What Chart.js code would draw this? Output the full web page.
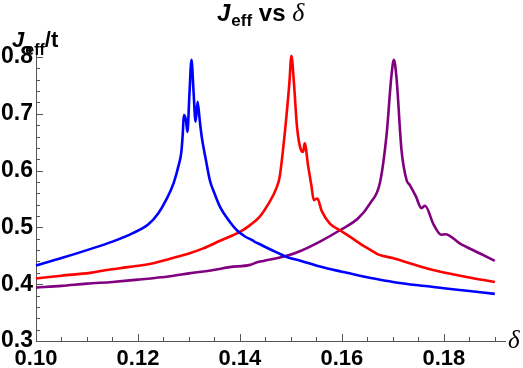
<!DOCTYPE html>
<html>
<head>
<meta charset="utf-8">
<script src="https://cdn.jsdelivr.net/npm/chart.js@4"></script>
<style>
  html, body { margin: 0; padding: 0; background: #fff; }
  #wrap { width: 523px; height: 368px; }
</style>
</head>
<body>
<div id="wrap"><canvas id="jeff-chart"></canvas></div>
<script>
'use strict';

// delta values and J_eff/t, one pair of lists per curve
var BLUE_X = [0.100, 0.105, 0.110, 0.115, 0.119, 0.122, 0.124, 0.1255, 0.127, 0.128, 0.1285, 0.1288, 0.1290, 0.1294, 0.1297, 0.1301, 0.1305, 0.1309, 0.1313, 0.1317, 0.1321, 0.1325, 0.1333, 0.1341, 0.1350, 0.1361, 0.1380, 0.1394, 0.1410, 0.1425, 0.1430, 0.1435, 0.1460, 0.1492, 0.1520, 0.1557, 0.1600, 0.1640, 0.1668, 0.1700, 0.1750, 0.1800, 0.1850, 0.1900];
var BLUE_Y = [0.433, 0.446, 0.460, 0.475, 0.490, 0.505, 0.525, 0.548, 0.578, 0.610, 0.632, 0.666, 0.698, 0.690, 0.668, 0.735, 0.795, 0.740, 0.686, 0.721, 0.690, 0.660, 0.620, 0.583, 0.560, 0.536, 0.510, 0.495, 0.484, 0.477, 0.474, 0.472, 0.461, 0.448, 0.441, 0.431, 0.422, 0.414, 0.409, 0.404, 0.398, 0.393, 0.388, 0.383];

var RED_X = [0.100, 0.105, 0.1106, 0.1139, 0.118, 0.123, 0.1263, 0.130, 0.1328, 0.136, 0.140, 0.142, 0.1439, 0.1455, 0.1472, 0.1478, 0.1488, 0.1497, 0.1501, 0.1506, 0.1512, 0.1520, 0.1524, 0.1527, 0.1534, 0.1540, 0.1545, 0.1552, 0.1560, 0.1576, 0.1596, 0.1620, 0.1645, 0.1668, 0.1672, 0.1700, 0.1740, 0.1779, 0.1820, 0.1860, 0.1900];
var RED_Y = [0.410, 0.415, 0.420, 0.425, 0.430, 0.437, 0.445, 0.454, 0.463, 0.476, 0.492, 0.504, 0.519, 0.540, 0.570, 0.589, 0.666, 0.754, 0.802, 0.754, 0.677, 0.636, 0.633, 0.648, 0.607, 0.575, 0.548, 0.551, 0.530, 0.507, 0.495, 0.481, 0.466, 0.454, 0.452, 0.446, 0.435, 0.425, 0.417, 0.410, 0.404];

var PURPLE_X = [0.100, 0.105, 0.110, 0.115, 0.120, 0.1263, 0.130, 0.1348, 0.138, 0.1420, 0.1435, 0.1446, 0.1492, 0.1520, 0.1557, 0.1596, 0.1632, 0.1655, 0.1675, 0.1688, 0.1697, 0.1702, 0.1707, 0.1717, 0.1727, 0.1733, 0.1745, 0.1756, 0.1763, 0.1780, 0.1795, 0.1803, 0.1831, 0.1871, 0.1900];
var PURPLE_Y = [0.394, 0.397, 0.401, 0.404, 0.408, 0.414, 0.419, 0.425, 0.430, 0.434, 0.439, 0.441, 0.450, 0.459, 0.475, 0.495, 0.516, 0.542, 0.580, 0.666, 0.765, 0.795, 0.765, 0.636, 0.583, 0.575, 0.555, 0.534, 0.538, 0.505, 0.487, 0.488, 0.472, 0.454, 0.441];

var X_TICKS = [0.10, 0.12, 0.14, 0.16, 0.18];
var X_TICK_LABELS = ['0.10', '0.12', '0.14', '0.16', '0.18'];
var Y_TICKS = [0.3, 0.4, 0.5, 0.6, 0.7, 0.8];
var Y_TICK_LABELS = ['0.3', '0.4', '0.5', '0.6', '0.7', '0.8'];

var AXIS_COLOR = '#555555';
var SANS = '"Liberation Sans", Arial, Helvetica, sans-serif';
var SERIF = '"Liberation Serif", "DejaVu Serif", serif';

function toPoints(xs, ys) {
	return xs.map(function (x, i) { return { x: x, y: ys[i] }; });
}

// inward major / minor tick marks, Mathematica style
var tickMarks = {
	id: 'tickMarks',
	afterDatasetsDraw: function (chart) {
		var ctx = chart.ctx;
		var xs = chart.scales.x, ys = chart.scales.y;
		var left = chart.chartArea.left, bottom = chart.chartArea.bottom;
		ctx.save();
		ctx.strokeStyle = AXIS_COLOR;
		ctx.lineWidth = 1;
		ctx.beginPath();
		for (var i = 0; i <= 18; i++) {
			var v = 0.10 + i * 0.005;
			var px = Math.round(xs.getPixelForValue(v)) + 0.5;
			var len = (i % 4 === 0) ? 7 : 4;
			ctx.moveTo(px, bottom);
			ctx.lineTo(px, bottom - len);
		}
		for (var j = 0; j <= 25; j++) {
			var w = 0.3 + j * 0.02;
			var py = Math.round(ys.getPixelForValue(w)) + 0.5;
			var l2 = (j % 5 === 0) ? 7 : 4;
			ctx.moveTo(left, py);
			ctx.lineTo(left + l2, py);
		}
		ctx.stroke();
		ctx.restore();
	}
};

// title and axis labels with subscripts
var labels = {
	id: 'labels',
	afterDraw: function (chart) {
		var ctx = chart.ctx;
		ctx.save();
		ctx.fillStyle = '#000';
		ctx.textBaseline = 'alphabetic';
		ctx.textAlign = 'left';

		// title: J_eff vs δ
		var x = 217;
		ctx.font = 'italic bold 24px ' + SANS;
		ctx.fillText('J', x, 21);
		x += ctx.measureText('J').width + 1;
		ctx.font = 'bold 17px ' + SANS;
		ctx.fillText('eff', x, 26);
		x += ctx.measureText('eff').width;
		ctx.font = 'bold 24px ' + SANS;
		ctx.fillText(' vs ', x, 21);
		x += ctx.measureText(' vs ').width;
		ctx.font = 'italic 26px ' + SERIF;
		ctx.fillText('\u03B4', x, 21);

		// y axis label: J_eff/t
		x = 12;
		ctx.font = 'italic bold 22px ' + SANS;
		ctx.fillText('J', x, 47);
		x += ctx.measureText('J').width + 1;
		ctx.font = 'bold 16px ' + SANS;
		ctx.fillText('eff', x, 55);
		x += ctx.measureText('eff').width;
		ctx.font = 'bold 22px ' + SANS;
		ctx.fillText('/t', x, 47);

		// x axis label: δ
		ctx.font = 'italic 25px ' + SERIF;
		ctx.fillText('\u03B4', 508, 348);
		ctx.restore();
	}
};

var ctx = document.getElementById('jeff-chart').getContext('2d');
new Chart(ctx, {
	type: 'scatter',
	data: {
		datasets: [
			{ label: 'blue', data: toPoints(BLUE_X, BLUE_Y), borderColor: '#0000ff' },
			{ label: 'red', data: toPoints(RED_X, RED_Y), borderColor: '#ff0000' },
			{ label: 'purple', data: toPoints(PURPLE_X, PURPLE_Y), borderColor: '#800080' }
		].map(function (d) {
			d.showLine = true;
			d.pointRadius = 0;
			d.borderWidth = 2.6;
			d.cubicInterpolationMode = 'monotone';
			d.clip = false;
			return d;
		})
	},
	options: {
		responsive: true,
		maintainAspectRatio: false,
		animation: false,
		layout: { padding: { left: 0, right: 18, top: 55, bottom: 0 } },
		plugins: {
			legend: { display: false },
			title: { display: false },
			tooltip: { enabled: false }
		},
		scales: {
			x: {
				type: 'linear',
				min: 0.10,
				max: 0.192,
				afterBuildTicks: function (scale) {
					scale.ticks = X_TICKS.map(function (v) { return { value: v }; });
				},
				afterFit: function (scale) { scale.height = 27; },
				grid: { drawOnChartArea: false, drawTicks: false },
				border: { display: true, color: AXIS_COLOR, width: 1 },
				ticks: {
					padding: 5,
					color: '#000',
					maxRotation: 0,
					autoSkip: false,
					font: { family: SANS, size: 22, weight: 'bold' },
					callback: function (v) {
						var i = X_TICKS.findIndex(function (t) { return Math.abs(t - v) < 1e-9; });
						return i >= 0 ? X_TICK_LABELS[i] : '';
					}
				}
			},
			y: {
				type: 'linear',
				min: 0.3,
				max: 0.8035,
				afterBuildTicks: function (scale) {
					scale.ticks = Y_TICKS.map(function (v) { return { value: v }; });
				},
				afterFit: function (scale) { scale.width = 36; },
				grid: { drawOnChartArea: false, drawTicks: false },
				border: { display: true, color: AXIS_COLOR, width: 1 },
				ticks: {
					padding: 3,
					color: '#000',
					autoSkip: false,
					font: { family: SANS, size: 23, weight: 'bold' },
					callback: function (v) {
						var i = Y_TICKS.findIndex(function (t) { return Math.abs(t - v) < 1e-9; });
						return i >= 0 ? Y_TICK_LABELS[i] : '';
					}
				}
			}
		}
	},
	plugins: [tickMarks, labels]
});
</script>
</body>
</html>
